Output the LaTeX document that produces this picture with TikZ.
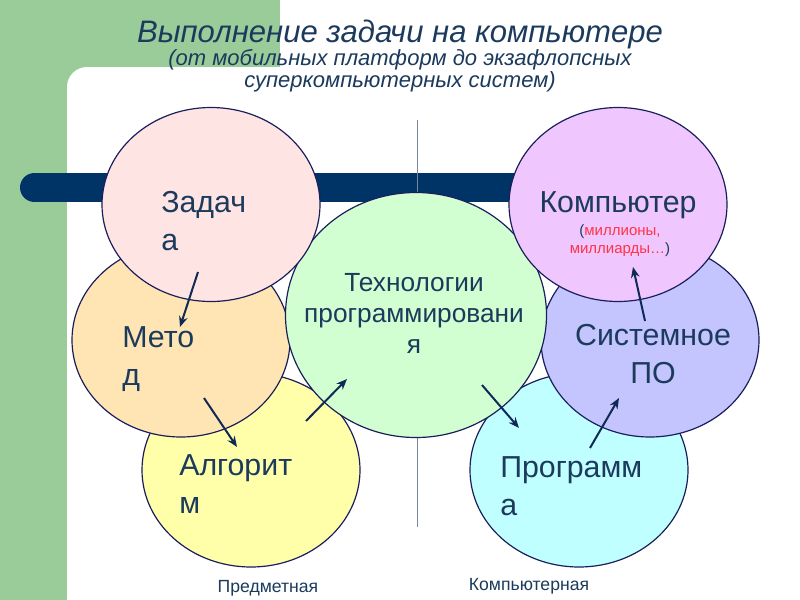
\documentclass[tikz,border=0pt]{standalone}
\usepackage{fontspec}
\setmainfont{Liberation Sans}
\usetikzlibrary{shapes.geometric,arrows.meta}
\definecolor{bggreen}{HTML}{99CC99}
\definecolor{barblue}{HTML}{003366}
\definecolor{txt}{HTML}{1B3A5C}
\definecolor{edgec}{HTML}{1A1F5C}
\definecolor{arrc}{HTML}{0F2A55}
\definecolor{vline}{HTML}{7A869A}
\definecolor{redt}{HTML}{FF3344}
\definecolor{cZad}{HTML}{FFE4E4}
\definecolor{cMet}{HTML}{FFE4B4}
\definecolor{cAlg}{HTML}{FFFFAA}
\definecolor{cTech}{HTML}{D2FFD2}
\definecolor{cKomp}{HTML}{F0C6FF}
\definecolor{cSys}{HTML}{C4C4FF}
\definecolor{cProg}{HTML}{C0FFFF}
\newcommand{\myLinesL}[1]{\begin{tabular}[t]{@{}l@{}}#1\end{tabular}}
\newcommand{\myLinesC}[1]{\begin{tabular}[t]{@{}c@{}}#1\end{tabular}}
\begin{document}
\begin{tikzpicture}[x=0.75pt,y=-0.75pt,
  blob/.style={ellipse, draw=edgec, line width=0.9pt, inner sep=0pt,
    minimum width=163.5pt, minimum height=145.5pt},
  biglab/.style={text=txt, font=\fontsize{22.75}{28.5}\selectfont, inner sep=0pt},
  techlab/.style={text=txt, font=\fontsize{19.7}{23.25}\selectfont, inner sep=0pt, anchor=base},
  smalllab/.style={text=txt, font=\fontsize{13.2}{14}\selectfont, inner sep=0pt, anchor=base},
  arr/.style={draw=arrc, line width=1.5pt, -{Stealth[length=8pt,width=6.5pt]}}]
\useasboundingbox (0,0) rectangle (800,600);
% background
\fill[bggreen] (0,0) rectangle (280,600);
\fill[white, rounded corners=15pt] (67,67) rectangle (830,630);
% title
\node[text=txt, font=\fontsize{23.3}{26}\itshape, anchor=base, inner sep=0pt] (title) at (400,42) {Выполнение задачи на компьютере};
\node[text=txt, font=\fontsize{16.5}{15.75}\itshape, anchor=base, inner sep=0pt] (sub) at (400,65) {\myLinesC{(от мобильных платформ до экзафлопсных\\суперкомпьютерных систем)}};
% bar and divider
\draw[barblue, line width=21.75pt, line cap=round] (34.5,187.5) -- (560,187.5);
\draw[vline, line width=0.75pt] (417,120) -- (417,527);
% circles
\node[blob, fill=cAlg] (alg) at (251,470) {};
\node[blob, fill=cProg] (prog) at (579,470) {};
\node[blob, fill=cMet] (met) at (181,340) {};
\node[blob, fill=cSys] (sys) at (650,340) {};
\node[blob, fill=cTech, minimum width=195.75pt, minimum height=183.75pt] (tech) at (416,315) {};
\node[blob, fill=cZad] (zad) at (211,204.5) {};
\node[blob, fill=cKomp] (komp) at (618,204.5) {};
% labels
\node[biglab, anchor=base west] (tZad) at (161,212) {\myLinesL{Задач\\а}};
\node[biglab, anchor=base west] (tMet) at (122,347) {\myLinesL{Мето\\д}};
\node[biglab, anchor=base west] (tAlg) at (179,475) {\myLinesL{Алгорит\\м}};
\node[biglab, anchor=base west] (tProg) at (500,477) {\myLinesL{Программ\\а}};
\node[biglab, anchor=base] (tKomp) at (618,212) {Компьютер};
\node[text=redt, font=\fontsize{11.25}{13.5}\selectfont, inner sep=0pt, anchor=base] (tMil) at (620,235) {\myLinesC{\textcolor{txt}{(}миллионы,\\миллиарды…\textcolor{txt}{)}}};
\node[biglab, anchor=base] (tSys) at (653,345) {\myLinesC{Системное\\ПО}};
\node[techlab] (tTech) at (414,291) {\myLinesC{Технологии\\программировани\\я}};
\node[smalllab] (tPred) at (268,592) {Предметная};
\node[smalllab] (tKompN) at (529,590) {Компьютерная};
% arrows
\coordinate (a1s) at (198,272); \coordinate (a1e) at (180,327);
\coordinate (a2s) at (204,398); \coordinate (a2e) at (237,447);
\coordinate (a3s) at (306,421); \coordinate (a3e) at (347,379);
\coordinate (a4s) at (482,385); \coordinate (a4e) at (519,428);
\coordinate (a5s) at (590,448); \coordinate (a5e) at (619,398);
\coordinate (a6s) at (645,321); \coordinate (a6e) at (633,267);
\draw[arr] (a1s) -- (a1e);
\draw[arr] (a2s) -- (a2e);
\draw[arr] (a3s) -- (a3e);
\draw[arr] (a4s) -- (a4e);
\draw[arr] (a5s) -- (a5e);
\draw[arr] (a6s) -- (a6e);
\end{tikzpicture}
\end{document}
